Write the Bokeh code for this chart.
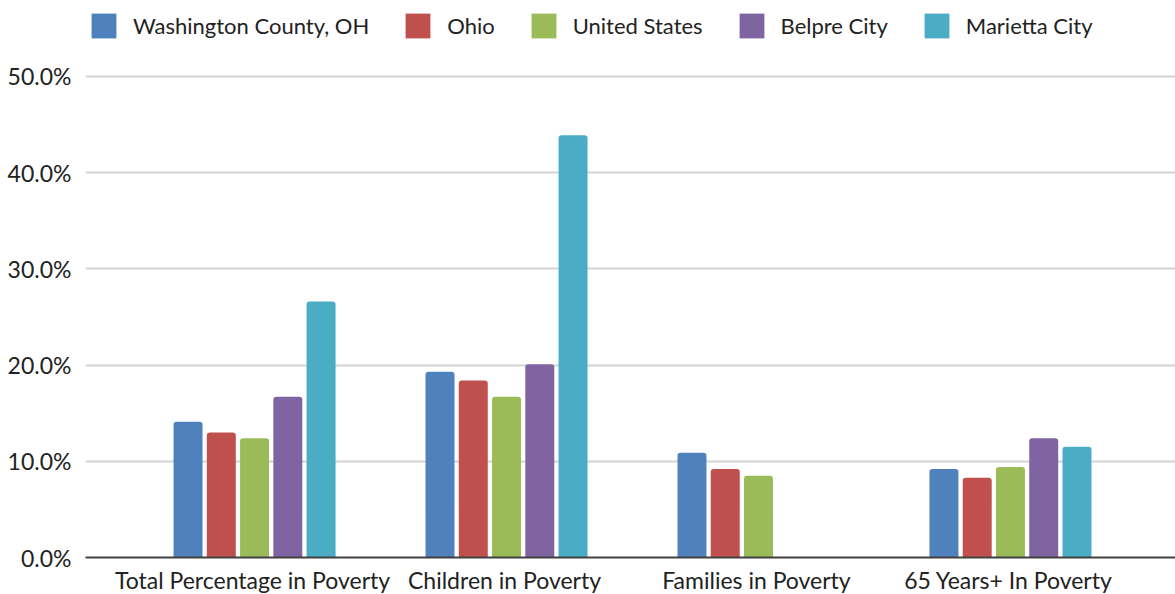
from bokeh.plotting import figure
from bokeh.models import (ColumnDataSource, FactorRange, Range1d, FixedTicker,
                          PrintfTickFormatter, Legend, LegendItem)
from bokeh.transform import dodge
from bokeh.embed import file_html
from bokeh.resources import INLINE

categories = ["Total Percentage in Poverty", "Children in Poverty",
              "Families in Poverty", "65 Years+ In Poverty"]
series = ["Washington County, OH", "Ohio", "United States", "Belpre City", "Marietta City"]
washington = [14.1, 19.3, 10.9, 9.2]
ohio = [13.0, 18.4, 9.2, 8.3]
united_states = [12.4, 16.7, 8.5, 9.4]
belpre = [16.7, 20.1, float("nan"), 12.4]
marietta = [26.6, 43.9, float("nan"), 11.5]
y_ticks = [0, 10, 20, 30, 40, 50]

colors = ["#4F81BD", "#C0504D", "#9BBB59", "#8064A2", "#4BACC6"]
keys = ["washington", "ohio", "us", "belpre", "marietta"]

src = ColumnDataSource(dict(cat=categories, washington=washington, ohio=ohio,
                            us=united_states, belpre=belpre, marietta=marietta))

FONT = "Lato"
FS = "23px"

# frame spans the full height above the axis; the top strip holds the legend
p = figure(x_range=FactorRange(*categories, range_padding=0.163, range_padding_units="absolute"),
           y_range=Range1d(0, 57.9),
           frame_width=1090, frame_height=557,
           min_border_left=85, min_border_right=0, min_border_top=0, min_border_bottom=37,
           output_backend="svg", toolbar_location=None, outline_line_color=None)

renderers = []
step = 0.132
for i, (k, c) in enumerate(zip(keys, colors)):
    r = p.vbar(x=dodge("cat", (i - 2) * step + 0.008, range=p.x_range), top=k, width=0.115,
               source=src, fill_color=c, line_color=None, border_radius=(3, 3, 0, 0))
    renderers.append(r)

legend = Legend(items=[LegendItem(label=s, renderers=[r]) for s, r in zip(series, renderers)],
                orientation="horizontal", location=(3, 516),
                label_text_font=FONT, label_text_font_size="22px", label_text_color="#222222",
                glyph_width=31, glyph_height=31, label_standoff=14, spacing=33,
                padding=0, margin=0, border_line_color=None, background_fill_alpha=0)
p.add_layout(legend, "center")

p.yaxis.ticker = FixedTicker(ticks=y_ticks)
p.yaxis.formatter = PrintfTickFormatter(format="%.1f%%")
p.yaxis.axis_line_color = None
p.yaxis.major_tick_line_color = None
p.yaxis.minor_tick_line_color = None
p.yaxis.major_label_standoff = 8
p.yaxis.major_label_text_font = FONT
p.yaxis.major_label_text_font_size = FS
p.yaxis.major_label_text_color = "#222222"

p.xaxis.axis_line_color = "#404040"
p.xaxis.axis_line_width = 2
p.xaxis.major_tick_line_color = None
p.xaxis.minor_tick_line_color = None
p.xaxis.major_label_standoff = 2
p.xaxis.major_label_text_font = FONT
p.xaxis.major_label_text_font_size = FS
p.xaxis.major_label_text_color = "#222222"

p.xgrid.grid_line_color = None
p.ygrid.grid_line_color = "#d4d4d4"
p.ygrid.grid_line_width = 2

open("out.html", "w").write(file_html(p, INLINE))
